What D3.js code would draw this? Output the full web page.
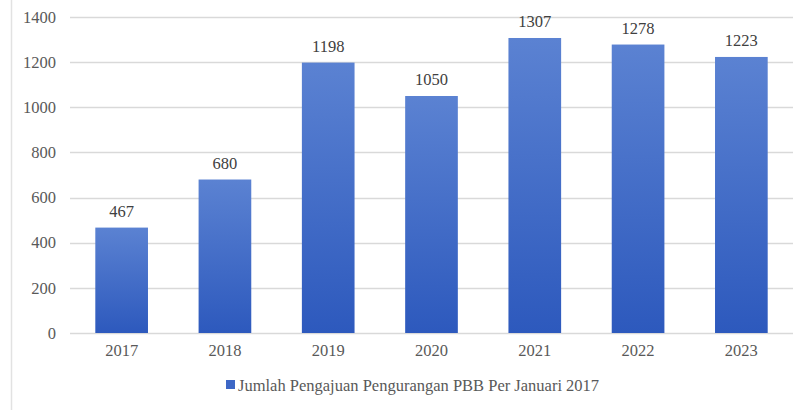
<!DOCTYPE html>
<html>
<head>
<meta charset="utf-8">
<script src="https://cdn.jsdelivr.net/npm/d3@7"></script>
<style>
  body { margin: 0; background: #fff; }
  text { font-family: 'Liberation Serif', 'DejaVu Serif', serif; }
</style>
</head>
<body>
<div id="chart"></div>
<script>
const years = ['2017', '2018', '2019', '2020', '2021', '2022', '2023'];
const counts = [467, 680, 1198, 1050, 1307, 1278, 1223];
const yTicks = [0, 200, 400, 600, 800, 1000, 1200, 1400];
const seriesName = 'Jumlah Pengajuan Pengurangan PBB Per Januari 2017';

const width = 802, height = 410;
const margin = {top: 17, right: 9, bottom: 77, left: 70};
const plotWidth = width - margin.left - margin.right;
const plotHeight = height - margin.top - margin.bottom;
const fontFam = "'Liberation Serif', 'DejaVu Serif', serif";

const svg = d3.select('#chart').append('svg')
    .attr('width', width)
    .attr('height', height);

// chart frame (left edge only visible)
svg.append('line')
    .attr('x1', 11.5).attr('x2', 11.5)
    .attr('y1', 0).attr('y2', height)
    .attr('stroke', '#e2e2e2')
    .attr('stroke-width', 1.5);

const defs = svg.append('defs');
const grad = defs.append('linearGradient')
    .attr('id', 'barGrad')
    .attr('x1', 0).attr('y1', 0).attr('x2', 0).attr('y2', 1);
grad.append('stop').attr('offset', '0%').attr('stop-color', '#5b82d2');
grad.append('stop').attr('offset', '100%').attr('stop-color', '#2d59bd');

const g = svg.append('g')
    .attr('transform', `translate(${margin.left},${margin.top})`);

const xScale = d3.scaleBand()
    .domain(years)
    .range([0, plotWidth])
    .paddingInner(0.49)
    .paddingOuter(0.245);

const yScale = d3.scaleLinear()
    .domain([0, 1400])
    .range([plotHeight, 0]);

// gridlines
g.selectAll('.grid')
    .data(yTicks)
    .enter()
    .append('line')
    .attr('x1', 0)
    .attr('x2', plotWidth)
    .attr('y1', d => Math.round(yScale(d)) + 0.5)
    .attr('y2', d => Math.round(yScale(d)) + 0.5)
    .attr('stroke', '#d9d9d9')
    .attr('stroke-width', 1.3);

// y axis labels
const yAxis = g.append('g')
    .call(d3.axisLeft(yScale).tickValues(yTicks).tickFormat(d3.format('d')).tickSize(0).tickPadding(14))
    .attr('font-family', fontFam)
    .attr('font-size', 16.5);
yAxis.select('.domain').remove();
yAxis.selectAll('text').attr('fill', '#595959');

// x axis labels
const xAxis = g.append('g')
    .attr('transform', `translate(0,${plotHeight})`)
    .call(d3.axisBottom(xScale).tickSize(0).tickPadding(11))
    .attr('font-family', fontFam)
    .attr('font-size', 16.5);
xAxis.select('.domain').remove();
xAxis.selectAll('text').attr('fill', '#595959');

// bars
g.selectAll('.bar')
    .data(counts)
    .enter()
    .append('rect')
    .attr('x', (d, i) => xScale(years[i]))
    .attr('y', d => yScale(d))
    .attr('width', xScale.bandwidth())
    .attr('height', d => plotHeight - yScale(d))
    .attr('fill', 'url(#barGrad)');

// value labels
g.selectAll('.val')
    .data(counts)
    .enter()
    .append('text')
    .attr('x', (d, i) => xScale(years[i]) + xScale.bandwidth() / 2)
    .attr('y', d => yScale(d) - 11)
    .attr('text-anchor', 'middle')
    .attr('fill', '#404040')
    .attr('font-family', fontFam)
    .attr('font-size', 16.5)
    .text(d => d);

// legend
const legend = svg.append('g')
    .attr('transform', 'translate(226,385)');
legend.append('rect')
    .attr('x', 0).attr('y', -5)
    .attr('width', 9).attr('height', 9)
    .attr('fill', '#3d67c6');
legend.append('text')
    .attr('x', 12)
    .attr('y', 0)
    .attr('dy', '0.35em')
    .attr('fill', '#595959')
    .attr('font-family', fontFam)
    .attr('font-size', 16.5)
    .text(seriesName);
</script>
</body>
</html>
